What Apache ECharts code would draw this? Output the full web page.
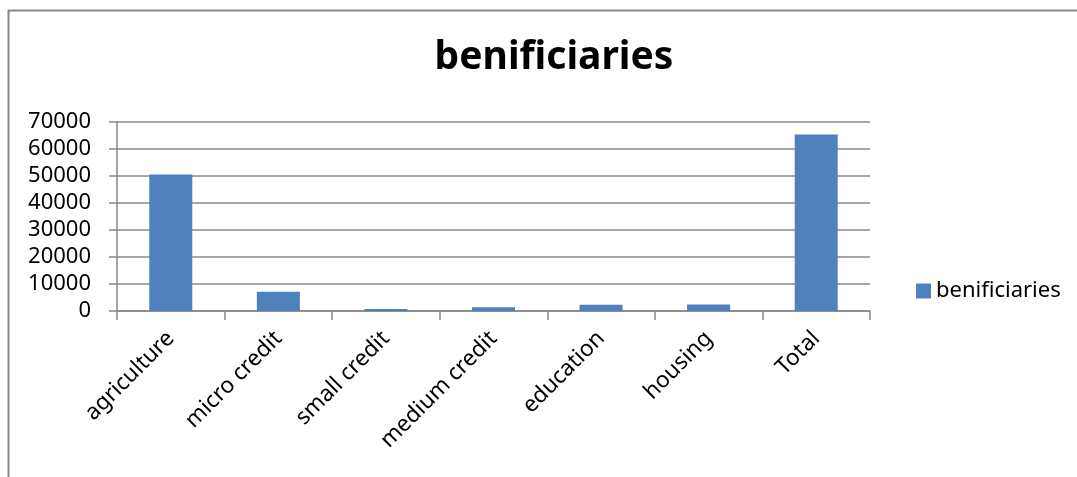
<!DOCTYPE html>
<html><head><meta charset="utf-8">
<script src="https://cdn.jsdelivr.net/npm/echarts@6/dist/echarts.min.js"></script>
<style>html,body{margin:0;padding:0;background:#fff}#c{width:1077px;height:477px}</style>
</head><body><div id="c"></div>
<script>
var categories = ['agriculture','micro credit','small credit','medium credit','education','housing','Total'];
var beneficiaries = [50600, 7100, 700, 1400, 2300, 2400, 65400];
var yTicks = [0, 10000, 20000, 30000, 40000, 50000, 60000, 70000];
var seriesName = 'benificiaries';
var titleText = 'benificiaries';

var font = 'Noto Sans';
var chart = echarts.init(document.getElementById('c'));
chart.setOption({
  animation: false,
  backgroundColor: '#fff',
  title: { text: titleText, left: 549, top: 33, textAlign: 'center',
    textStyle: { fontFamily: font, fontSize: 39, fontWeight: 'bold', color: '#000' } },
  legend: { data: [seriesName], left: 911, top: 275, itemWidth: 15, itemHeight: 15, itemGap: 6,
    icon: 'rect', textStyle: { fontFamily: font, fontSize: 22, color: '#000' } },
  graphic: [
    { type: 'line', shape: { x1: 8, y1: 10.5, x2: 1077, y2: 10.5 }, style: { stroke: '#888', lineWidth: 2 } },
    { type: 'line', shape: { x1: 8.5, y1: 10, x2: 8.5, y2: 477 }, style: { stroke: '#888', lineWidth: 2 } }
  ],
  grid: { left: 117, right: 207, top: 122, bottom: 166 },
  xAxis: { type: 'category', data: categories,
    axisLine: { lineStyle: { color: '#888', width: 1.5 } },
    axisTick: { show: true, length: 9, lineStyle: { color: '#888', width: 1.5 } },
    axisLabel: { rotate: 45, fontFamily: font, fontSize: 22.5, color: '#000', margin: 24, interval: 0 } },
  yAxis: { type: 'value', min: 0, max: 70000, interval: 10000,
    axisLine: { show: true, lineStyle: { color: '#888', width: 1.5 } },
    axisTick: { show: true, length: 8, lineStyle: { color: '#888', width: 1.5 } },
    splitLine: { lineStyle: { color: '#888', width: 1.5 } },
    axisLabel: { fontFamily: font, fontSize: 22, color: '#000', margin: 26,
      formatter: function (v) { return yTicks.indexOf(v) >= 0 ? String(v) : ''; } } },
  series: [{ name: seriesName, type: 'bar', data: beneficiaries, barWidth: '40%',
    itemStyle: { color: '#4F81BD' } }]
});
</script></body></html>
